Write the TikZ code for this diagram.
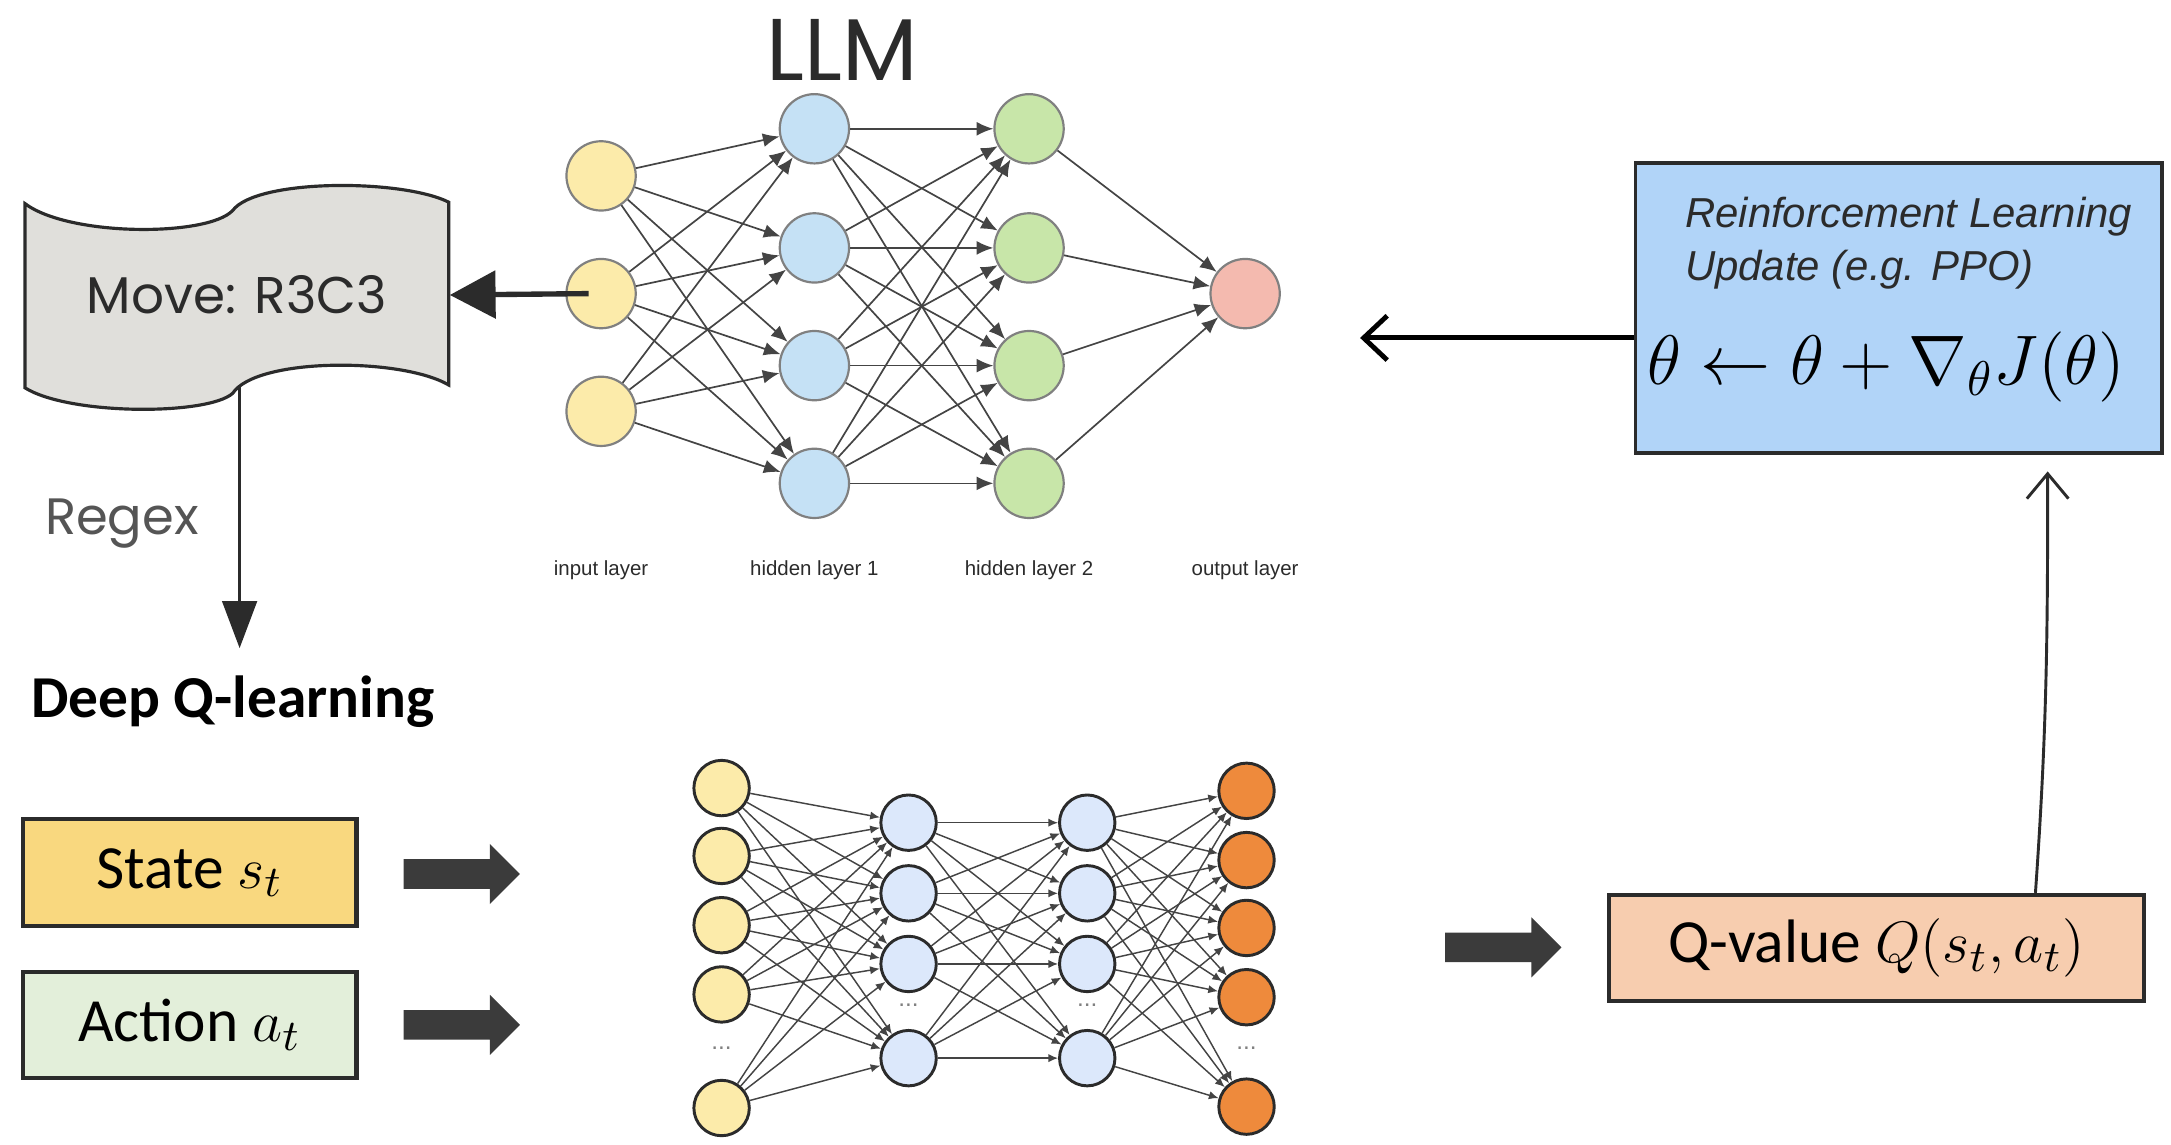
\documentclass[tikz,border=0pt]{standalone}
\usepackage{fontspec}
\setmainfont{Carlito}
\newfontfamily\popfont{Poppins}
\newfontfamily\arialfont{Liberation Sans}
\usetikzlibrary{calc,positioning,arrows.meta,shapes.arrows}

\definecolor{llmyellow}{HTML}{FCEBAA}
\definecolor{llmblue}{HTML}{C5E1F5}
\definecolor{llmgreen}{HTML}{C8E6A9}
\definecolor{llmpink}{HTML}{F4BAAF}
\definecolor{llmline}{HTML}{808080}
\definecolor{edgegrey}{HTML}{444444}
\definecolor{flaggrey}{HTML}{E0DFDB}
\definecolor{darkline}{HTML}{2B2B2B}
\definecolor{stateyellow}{HTML}{F9D87F}
\definecolor{actiongreen}{HTML}{E3EFDA}
\definecolor{qpeach}{HTML}{F7CDAF}
\definecolor{rlblue}{HTML}{B1D4F8}
\definecolor{dqnblue}{HTML}{DCE8FB}
\definecolor{dqnorange}{HTML}{EE8A3C}
\definecolor{arrowgrey}{HTML}{3B3B3B}

\begin{document}
\begin{tikzpicture}[x=0.01cm,y=-0.01cm,
  llmnode/.style={circle, draw=llmline, line width=0.45pt, minimum size=0.5cm, inner sep=0pt},
  dqnnode/.style={circle, draw=darkline, line width=0.6pt, minimum size=0.4cm, inner sep=0pt},
  llmedge/.style={draw=edgegrey, line width=0.35pt, -{Latex[length=0.12cm,width=0.1cm]}},
  dqnedge/.style={draw=edgegrey, line width=0.3pt, -{Latex[length=0.07cm,width=0.06cm]}},
  inbox/.style={draw=darkline, line width=0.85pt, minimum width=2.406cm, minimum height=0.767cm,
                inner sep=0pt, font=\fontsize{12.6}{15}\selectfont},
  blockarrow/.style={single arrow, fill=arrowgrey, minimum height=0.84cm, minimum width=0.42cm,
                     single arrow head extend=0.11cm, inner xsep=0pt, inner ysep=0.1cm},
  layerlabel/.style={font=\arialfont\fontsize{4.2}{5}\selectfont, text=darkline},
  dotlabel/.style={font=\arialfont\fontsize{5}{6}\selectfont, text=gray}]
\useasboundingbox (0,0) rectangle (1567.5,826.7);

% LLM network
\node[font=\popfont\fontsize{18}{20}\selectfont, text=darkline] (llm) at (608,36) {LLM};
\foreach \y [count=\i] in {127,212,297}
  \node[llmnode, fill=llmyellow] (li\i) at (434,\y) {};
\foreach \y [count=\i] in {93,179,264,349}{
  \node[llmnode, fill=llmblue] (la\i) at (588,\y) {};
  \node[llmnode, fill=llmgreen] (lb\i) at (743,\y) {};
}
\node[llmnode, fill=llmpink] (lo) at (899,212) {};
\foreach \i in {1,...,3}
  \foreach \j in {1,...,4}
    \draw[llmedge] (li\i) -- (la\j);
\foreach \i in {1,...,4}{
  \foreach \j in {1,...,4}
    \draw[llmedge] (la\i) -- (lb\j);
  \draw[llmedge] (lb\i) -- (lo);
}
\node[layerlabel] (lin) at (434,412) {input layer};
\node[layerlabel] (lh1) at (588,412) {hidden layer 1};
\node[layerlabel] (lh2) at (743,412) {hidden layer 2};
\node[layerlabel] (lout) at (899,412) {output layer};

% move and regex
\draw[darkline, fill=flaggrey, line width=0.65pt]
  (18,147) .. controls (50,171) and (150,171) .. (168,152)
  .. controls (185,129) and (290,129) .. (324,146) -- (324,278)
  .. controls (290,258) and (185,258) .. (168,284)
  .. controls (150,300) and (50,300) .. (18,280) -- cycle;
\node[minimum width=3.06cm, minimum height=1.32cm, inner sep=0pt,
      font=\popfont\fontsize{10.6}{12}\selectfont, text=darkline] (flag) at (171,213) {Move: R3C3};
\draw[darkline, line width=1.1pt, -{Triangle[length=0.33cm,width=0.34cm]}] ($(li2)+(-9,0)$) -- (flag.east);
\coordinate (regexend) at (173,468);
\draw[darkline, line width=0.6pt, -{Triangle[length=0.34cm,width=0.25cm]}] (flag.south -| regexend) -- (regexend);
\node[font=\popfont\fontsize{10.5}{12}\selectfont, text=darkline!80] (regex) at (88,378) {Regex};

% deep Q-learning
\node[anchor=base west, inner sep=0pt, font=\bfseries\fontsize{12.2}{14}\selectfont] (dql) at (22,518) {Deep Q-learning};
\node[inbox, fill=stateyellow] (state) at (137,630) {State $s_t$};
\node[inbox, fill=actiongreen] (action) at (137,740) {Action $a_t$};
\node[blockarrow] (sarr) at (328,631) {};
\node[blockarrow] (aarr) at (328,740) {};

\foreach \y [count=\i] in {569,618,668,718,800}
  \node[dqnnode, fill=llmyellow] (di\i) at (521,\y) {};
\foreach \y [count=\i] in {594,645,696,764}{
  \node[dqnnode, fill=dqnblue] (da\i) at (656,\y) {};
  \node[dqnnode, fill=dqnblue] (db\i) at (785,\y) {};
}
\foreach \y [count=\i] in {571,621,670,720,799}
  \node[dqnnode, fill=dqnorange] (do\i) at (900,\y) {};
\foreach \i in {1,...,5}
  \foreach \j in {1,...,4}{
    \draw[dqnedge] (di\i) -- (da\j);
    \draw[dqnedge] (db\j) -- (do\i);
  }
\foreach \i in {1,...,4}
  \foreach \j in {1,...,4}
    \draw[dqnedge] (da\i) -- (db\j);
\node[dotlabel] (didots) at (521,757) {...};
\node[dotlabel] (dadots) at (656,726) {...};
\node[dotlabel] (dbdots) at (785,726) {...};
\node[dotlabel] (dodots) at (900,757) {...};

\node[blockarrow] (qarr) at (1080,684) {};
\node[inbox, fill=qpeach, minimum width=3.86cm] (qv) at (1355,684.5) {Q-value $Q(s_t,a_t)$};

% RL update
\node[draw=darkline, line width=0.75pt, fill=rlblue, minimum width=3.8cm, minimum height=2.094cm, inner sep=0pt] (rl) at (1371,222.3) {};
\node[anchor=north west, align=left, inner sep=0pt, text=darkline,
      font=\arialfont\itshape\fontsize{8.6}{10.7}\selectfont] (rltext) at (1216,142) {Reinforcement Learning\\Update (e.g. PPO)};
\node[font=\fontsize{14}{16}\selectfont] (rule) at (1362,265) {$\theta \leftarrow \theta + \nabla_\theta J(\theta)$};

\coordinate (rlend) at (982,244);
\draw[black, line width=1pt, -{Straight Barb[length=0.17cm,width=0.32cm]}] (rlend -| rl.west) -- (rlend);
\draw[darkline, line width=0.6pt, -{Straight Barb[length=0.18cm,width=0.3cm]}] ($(qv.north east)+(-80,0)$) to[out=86,in=-90] ($(rl.south east)+(-84,12)$);
\end{tikzpicture}
\end{document}
